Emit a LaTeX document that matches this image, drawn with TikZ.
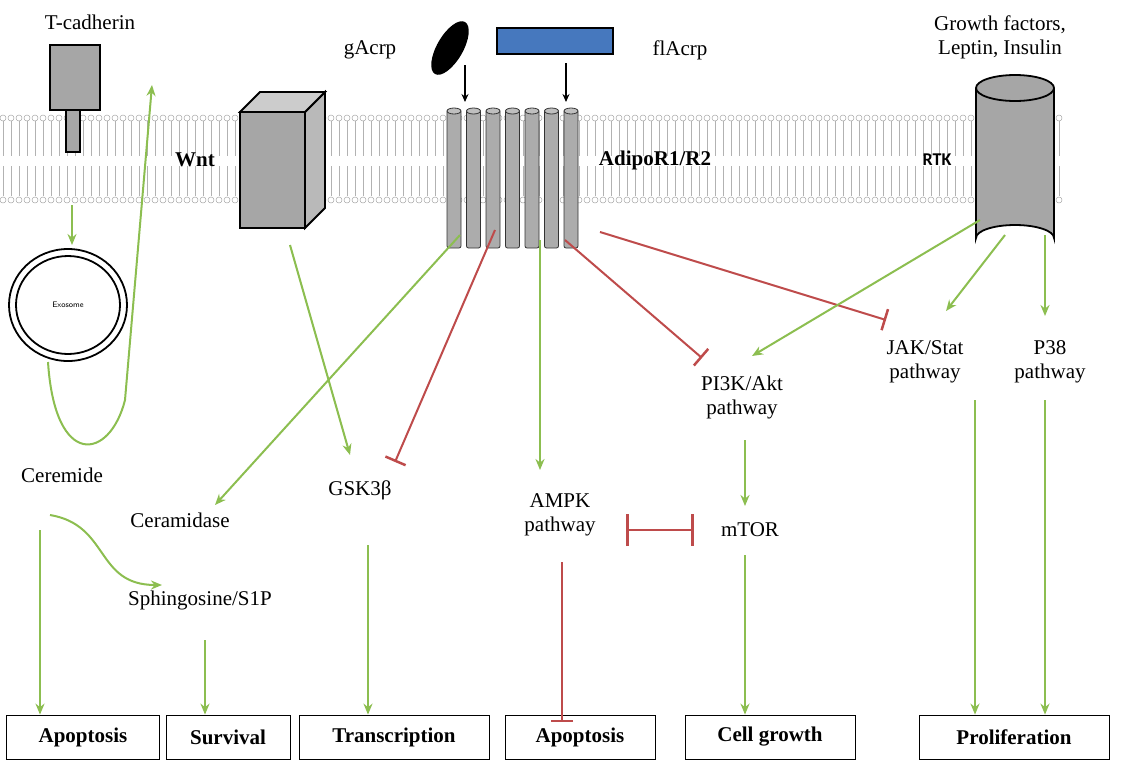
\documentclass[tikz,border=0pt]{standalone}
\usepackage{fontspec}
\setmainfont{Liberation Serif}
\newfontfamily\carfont{Carlito}
\usetikzlibrary{arrows.meta,shapes.geometric}
\definecolor{gr}{RGB}{140,190,80}
\definecolor{rd}{RGB}{190,75,75}
\definecolor{blu}{RGB}{70,120,190}
\tikzset{
 txt/.style={font=\fontsize{21}{24}\selectfont,align=center,inner sep=1pt},
 lbl/.style={font=\bfseries\fontsize{21}{24}\selectfont,draw,thick,inner sep=4pt,minimum height=44pt},
 act/.style={gr,line width=2pt,-{Stealth[length=11pt,width=9pt]}},
 inh/.style={rd,line width=2pt,-{Bar[width=22pt,line width=2.5pt]}},
 blk/.style={line width=1.5pt,-{Stealth[length=8pt,width=7pt]}},
 prot/.style={fill=gray!70,draw=black,line width=1.8pt}
}
\begin{document}
\begin{tikzpicture}[x=1pt,y=-1pt]
\useasboundingbox (0,0) rectangle (1129,764);
% membrane
\foreach \x in {0,8,...,1056}{
 \draw[gray!60,line width=0.5pt] (\x+3,121) -- (\x+3,156) (\x+3,166)--(\x+3,196);
 \draw[gray!70,line width=0.5pt] (\x+3,118) circle (3) (\x+3,200) circle (3);
}
% T-cadherin
\node[txt] (tc) at (90,22) {T-cadherin};
\draw[prot] (50,45) rectangle (100,110);
\draw[prot] (66,110) rectangle (80,152);
\coordinate (tcb) at (72,205);
\coordinate (exot) at (72,245);
\draw[act] (tcb) -- (exot);
\node[draw,ellipse,line width=1.8pt,minimum width=118pt,minimum height=112pt] (exo) at (68,305) {};
\node[draw,ellipse,line width=1.8pt,minimum width=104pt,minimum height=98pt,font=\sffamily\fontsize{8}{9}\selectfont] at (68,305) {Exosome};
\coordinate (cs) at (48,362);
\coordinate (ce) at (152,85);
\draw[act] (cs) .. controls (55,470) and (110,460) .. (125,400) -- (ce);
% Wnt
\node[txt,font=\bfseries\fontsize{21}{24}\selectfont] (wnt) at (195,160) {Wnt};
\draw[prot,fill=gray!55] (305,112) -- (325,92) -- (325,208) -- (305,228) -- cycle;
\draw[prot,fill=gray!40] (240,112) -- (260,92) -- (325,92) -- (305,112) -- cycle;
\draw[prot] (240,112) rectangle (305,228);
% ligands
\node[txt] (ga) at (370,50) {gAcrp};
\node[fill=black,ellipse,rotate=60,minimum width=60pt,minimum height=26pt] (gae) at (450,48) {};
\node[draw,line width=2pt,fill=blu,minimum width=116pt,minimum height=26pt,inner sep=0] (fl) at (555,41) {};
\node[txt] (fla) at (680,50) {flAcrp};
\coordinate (a1) at (465,65); \coordinate (a1e) at (465,102);
\coordinate (a2) at (566,63); \coordinate (a2e) at (566,102);
\draw[blk] (a1) -- (a1e); \draw[blk] (a2) -- (a2e);
% AdipoR
\foreach \i in {0,...,6}{
 \draw[fill=gray!65,draw=gray!40!black,line width=0.8pt,rounded corners=2pt] (447+\i*19.5,110) rectangle (461+\i*19.5,248);
 \draw[fill=gray!50,draw=gray!40!black,line width=0.8pt] (454+\i*19.5,111) ellipse (7 and 3);
}
\node[txt,font=\bfseries\fontsize{21}{24}\selectfont] (adr) at (655,160) {AdipoR1/R2};
% RTK
\node[font=\carfont\bfseries\fontsize{18}{20}\selectfont] (rtk) at (937,160) {RTK};
\draw[prot] (976,88) -- (976,238) arc[start angle=180,end angle=360,x radius=39,y radius=13] -- (1054,88);
\draw[prot] (1015,88) ellipse (39 and 13);
\node[txt] (gf) at (1000,37) {Growth factors,\\Leptin, Insulin};
% lower texts
\node[txt] (cer) at (62,475) {Ceremide};
\node[txt] (cda) at (180,520) {Ceramidase};
\node[txt] (sph) at (200,600) {Sphingosine/S1P};
\node[txt] (gsk) at (360,490) {GSK3β};
\node[txt] (ampk) at (560,515) {AMPK\\pathway};
\node[txt] (mtor) at (750,530) {mTOR};
\node[txt] (pi3k) at (742,397) {PI3K/Akt\\pathway};
\node[txt] (jak) at (925,362) {JAK/Stat\\pathway};
\node[txt] (p38) at (1050,362) {P38\\pathway};
% boxes
\node[lbl,minimum width=153pt] (b1) at (83,737) {Apoptosis};
\node[lbl,minimum width=124pt] (b2) at (228,737) {Survival};
\node[lbl,minimum width=190pt] (b3) at (394,737) {Transcription};
\node[lbl,minimum width=150pt] (b4) at (580,737) {Apoptosis};
\node[lbl,minimum width=170pt] (b5) at (770,737) {Cell growth};
\node[lbl,minimum width=190pt] (b6) at (1014,737) {Proliferation};
% arrows
\draw[act] (40,530) -- (b1.north -| 40,0);
\draw[act] (50,515) .. controls (110,525) and (95,585) .. (162,585);
\draw[act] (205,640) -- (b2.north -| 205,0);
\draw[act] (290,245) -- (350,455);
\draw[act] (460,235) -- (215,505);
\draw[inh] (495,230) -- (395,462);
\draw[act] (540,240) -- (540,470);
\draw[inh] (565,240) -- (702,358);
\draw[inh] (600,232) -- (886,320);
\draw[act] (980,220) -- (752,356);
\draw[act] (1005,235) -- (946,311);
\draw[act] (1045,235) -- (1045,316);
\draw[act] (368,545) -- (b3.north -| 368,0);
\draw[act] (745,440) -- (745,506);
\draw[act] (745,555) -- (b5.north -| 745,0);
\draw[inh] (562,562) -- (562,722);
\draw[rd,line width=2.5pt,{Bar[width=32pt,line width=3pt]}-{Bar[width=32pt,line width=3pt]}] (626,530) -- (694,530);
\draw[act] (975,400) -- (b6.north -| 975,0);
\draw[act] (1045,400) -- (b6.north -| 1045,0);
\end{tikzpicture}
\end{document}
